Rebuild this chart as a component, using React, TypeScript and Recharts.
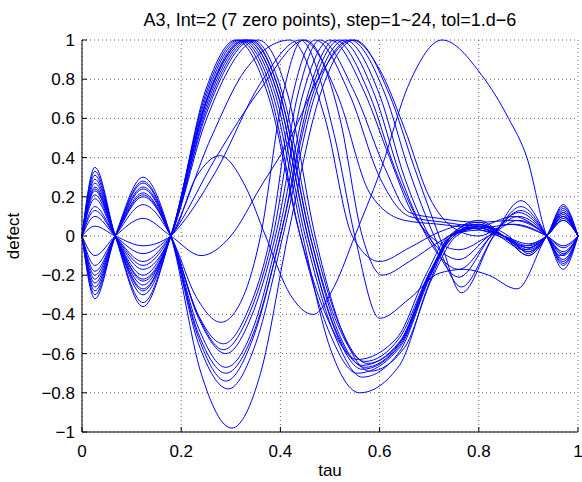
import { CartesianGrid, Line, LineChart, XAxis, YAxis } from "recharts";

type Knot = [number, number];

const title = "A3, Int=2 (7 zero points), step=1~24, tol=1.d\u22126";
const tauTicks = [0, 0.2, 0.4, 0.6, 0.8, 1];
const defectTicks = [-1, -0.8, -0.6, -0.4, -0.2, 0, 0.2, 0.4, 0.6, 0.8, 1];

// curves that go up right after tau=0.18 and peak early (~0.31-0.36)
const earlyPeak: Knot[][] = [
  [[0, 0], [0.026, 0.35], [0.067, 0], [0.123, -0.36], [0.179, 0], [0.25, 0.71], [0.32, 1], [0.385, 0.72], [0.445, 0], [0.5, -0.57], [0.56, -0.8], [0.64, -0.66], [0.7, -0.24], [0.745, 0], [0.8, 0.08], [0.85, 0], [0.9, -0.1], [0.937, 0], [0.97, 0.16], [1, 0]],
  [[0, 0], [0.026, 0.33], [0.067, 0], [0.123, -0.34], [0.179, 0], [0.25, 0.69], [0.325, 1], [0.39, 0.72], [0.45, 0], [0.51, -0.51], [0.565, -0.72], [0.64, -0.59], [0.7, -0.22], [0.745, 0], [0.8, 0.06], [0.85, 0], [0.9, -0.08], [0.937, 0], [0.97, 0.14], [1, 0]],
  [[0, 0], [0.026, 0.31], [0.067, 0], [0.123, -0.3], [0.179, 0], [0.25, 0.73], [0.315, 1], [0.38, 0.72], [0.44, 0], [0.5, -0.5], [0.555, -0.7], [0.64, -0.57], [0.7, -0.21], [0.74, 0], [0.8, 0.07], [0.85, 0], [0.9, -0.06], [0.937, 0], [0.97, 0.12], [1, 0]],
  [[0, 0], [0.026, 0.29], [0.067, 0], [0.123, -0.28], [0.179, 0], [0.25, 0.66], [0.335, 1], [0.4, 0.72], [0.46, 0], [0.515, -0.48], [0.57, -0.67], [0.64, -0.55], [0.7, -0.2], [0.75, 0], [0.8, 0.05], [0.85, 0], [0.9, -0.1], [0.937, 0], [0.97, 0.15], [1, 0]],
  [[0, 0], [0.026, 0.27], [0.067, 0], [0.123, -0.27], [0.179, 0], [0.25, 0.68], [0.33, 1], [0.395, 0.72], [0.455, 0], [0.51, -0.47], [0.565, -0.66], [0.64, -0.54], [0.7, -0.2], [0.745, 0], [0.8, 0.04], [0.85, 0], [0.9, -0.05], [0.937, 0], [0.97, 0.1], [1, 0]],
  [[0, 0], [0.026, 0.25], [0.067, 0], [0.123, -0.25], [0.179, 0], [0.25, 0.62], [0.345, 1], [0.405, 0.72], [0.465, 0], [0.52, -0.46], [0.575, -0.65], [0.645, -0.53], [0.7, -0.19], [0.75, 0], [0.8, 0.06], [0.85, 0], [0.9, -0.07], [0.937, 0], [0.97, 0.13], [1, 0]],
  [[0, 0], [0.026, 0.23], [0.067, 0], [0.123, -0.23], [0.179, 0], [0.25, 0.75], [0.31, 1], [0.375, 0.72], [0.44, 0], [0.5, -0.45], [0.555, -0.63], [0.635, -0.52], [0.695, -0.19], [0.74, 0], [0.8, 0.03], [0.85, 0], [0.9, -0.04], [0.937, 0], [0.97, 0.08], [1, 0]],
  [[0, 0], [0.026, 0.21], [0.067, 0], [0.123, -0.2], [0.179, 0], [0.25, 0.59], [0.355, 1], [0.415, 0.72], [0.47, 0], [0.525, -0.49], [0.58, -0.69], [0.65, -0.57], [0.705, -0.22], [0.755, 0], [0.81, 0.05], [0.86, 0], [0.9, -0.09], [0.937, 0], [0.97, 0.11], [1, 0]],
  [[0, 0], [0.026, 0.19], [0.067, 0], [0.123, -0.17], [0.179, 0], [0.25, 0.64], [0.34, 1], [0.4, 0.72], [0.46, 0], [0.515, -0.45], [0.57, -0.64], [0.64, -0.52], [0.7, -0.19], [0.745, 0], [0.8, 0.04], [0.85, 0], [0.9, -0.06], [0.937, 0], [0.97, 0.09], [1, 0]],
  [[0, 0], [0.026, 0.24], [0.067, 0], [0.123, -0.22], [0.179, 0], [0.25, 0.68], [0.33, 1], [0.395, 0.72], [0.455, 0], [0.51, -0.48], [0.565, -0.68], [0.64, -0.56], [0.7, -0.21], [0.745, 0], [0.8, 0.05], [0.85, 0], [0.9, -0.08], [0.937, 0], [0.97, 0.12], [1, 0]],
];

// rising after 0.18 too, but slower, peaking later
const latePeak: Knot[][] = [
  [[0, 0], [0.026, 0.15], [0.067, 0], [0.123, -0.15], [0.179, 0], [0.26, 0.5], [0.33, 0.85], [0.42, 1], [0.49, 0.6], [0.545, 0], [0.6, -0.13], [0.66, -0.06], [0.72, 0.02], [0.78, 0.06], [0.84, 0], [0.89, -0.07], [0.937, 0], [0.97, 0.1], [1, 0]],
  [[0, 0], [0.026, 0.13], [0.067, 0], [0.123, -0.13], [0.179, 0], [0.27, 0.4], [0.36, 0.75], [0.45, 1], [0.52, 0.6], [0.565, 0], [0.605, -0.2], [0.66, -0.13], [0.72, -0.03], [0.78, 0.04], [0.84, 0], [0.89, -0.05], [0.937, 0], [0.97, 0.08], [1, 0]],
  [[0, 0], [0.026, 0.1], [0.067, 0], [0.123, -0.09], [0.179, 0], [0.27, 0.33], [0.36, 0.78], [0.44, 1], [0.51, 0.5], [0.55, 0], [0.6, -0.42], [0.66, -0.32], [0.72, -0.19], [0.77, -0.17], [0.82, -0.2], [0.877, -0.27], [0.937, 0], [0.97, 0.1], [1, 0]],
  [[0, 0], [0.026, 0.05], [0.067, 0], [0.123, -0.05], [0.179, 0], [0.23, 0.3], [0.278, 0.41], [0.33, 0.25], [0.37, 0], [0.42, -0.3], [0.466, -0.4], [0.51, -0.25], [0.55, 0], [0.6, 0.32], [0.66, 0.78], [0.726, 1], [0.806, 0.82], [0.86, 0.6], [0.897, 0.4], [0.937, 0], [0.965, -0.1], [1, 0]],
];

// curves that dip after 0.18, then peak around 0.45-0.55
const earlyTrough: Knot[][] = [
  [[0, 0], [0.026, -0.32], [0.067, 0], [0.123, 0.3], [0.179, 0], [0.24, -0.7], [0.302, -0.98], [0.36, -0.7], [0.415, 0], [0.48, 0.72], [0.55, 1], [0.62, 0.72], [0.67, 0.35], [0.72, 0], [0.765, -0.29], [0.83, 0], [0.885, 0.18], [0.937, 0], [0.97, -0.17], [1, 0]],
  [[0, 0], [0.026, -0.3], [0.067, 0], [0.123, 0.28], [0.179, 0], [0.235, -0.55], [0.295, -0.78], [0.35, -0.55], [0.405, 0], [0.47, 0.72], [0.54, 1], [0.61, 0.73], [0.66, 0.33], [0.71, 0], [0.765, -0.26], [0.83, 0], [0.885, 0.15], [0.937, 0], [0.97, -0.15], [1, 0]],
  [[0, 0], [0.026, -0.28], [0.067, 0], [0.123, 0.27], [0.179, 0], [0.235, -0.52], [0.29, -0.74], [0.345, -0.52], [0.4, 0], [0.465, 0.72], [0.53, 1], [0.6, 0.72], [0.65, 0.3], [0.7, 0], [0.76, -0.21], [0.825, 0], [0.885, 0.13], [0.937, 0], [0.97, -0.14], [1, 0]],
  [[0, 0], [0.026, -0.26], [0.067, 0], [0.123, 0.25], [0.179, 0], [0.235, -0.5], [0.29, -0.7], [0.345, -0.5], [0.4, 0], [0.46, 0.72], [0.52, 1], [0.59, 0.72], [0.64, 0.32], [0.69, 0.02], [0.76, -0.17], [0.825, 0], [0.88, 0.12], [0.937, 0], [0.97, -0.13], [1, 0]],
  [[0, 0], [0.026, -0.24], [0.067, 0], [0.123, 0.24], [0.179, 0], [0.235, -0.47], [0.29, -0.67], [0.345, -0.47], [0.395, 0], [0.455, 0.72], [0.51, 1], [0.58, 0.72], [0.63, 0.35], [0.68, 0.07], [0.76, -0.12], [0.82, 0], [0.88, 0.1], [0.937, 0], [0.97, -0.12], [1, 0]],
  [[0, 0], [0.026, -0.22], [0.067, 0], [0.123, 0.22], [0.179, 0], [0.235, -0.42], [0.29, -0.6], [0.34, -0.42], [0.39, 0], [0.445, 0.72], [0.5, 1], [0.57, 0.73], [0.62, 0.4], [0.67, 0.1], [0.76, -0.07], [0.82, 0], [0.88, 0.08], [0.937, 0], [0.97, -0.1], [1, 0]],
  [[0, 0], [0.026, -0.2], [0.067, 0], [0.123, 0.21], [0.179, 0], [0.235, -0.41], [0.285, -0.58], [0.335, -0.41], [0.385, 0], [0.435, 0.72], [0.48, 1], [0.55, 0.73], [0.61, 0.35], [0.66, 0.12], [0.72, 0.09], [0.8, 0.07], [0.87, 0.08], [0.937, 0], [0.97, -0.09], [1, 0]],
  [[0, 0], [0.026, -0.18], [0.067, 0], [0.123, 0.2], [0.179, 0], [0.232, -0.39], [0.285, -0.55], [0.333, -0.39], [0.38, 0], [0.425, 0.72], [0.47, 1], [0.54, 0.72], [0.6, 0.3], [0.66, 0.1], [0.73, 0.07], [0.8, 0.05], [0.87, 0.1], [0.937, 0], [0.97, -0.08], [1, 0]],
  [[0, 0], [0.026, -0.15], [0.067, 0], [0.123, 0.16], [0.179, 0], [0.23, -0.31], [0.28, -0.44], [0.325, -0.31], [0.36, 0], [0.405, 0.72], [0.445, 1], [0.515, 0.72], [0.58, 0.22], [0.65, 0.08], [0.72, 0.06], [0.8, 0.04], [0.87, 0.06], [0.937, 0], [0.97, -0.06], [1, 0]],
  [[0, 0], [0.026, -0.1], [0.067, 0], [0.123, 0.09], [0.179, 0], [0.24, -0.1], [0.3, 0], [0.36, 0.25], [0.42, 0.5], [0.48, 0.82], [0.545, 1], [0.6, 0.85], [0.65, 0.55], [0.7, 0.2], [0.75, 0.04], [0.8, 0], [0.86, 0.06], [0.937, 0], [0.97, -0.05], [1, 0]],
];

const curves = [...earlyPeak, ...latePeak, ...earlyTrough].map((knots) =>
  knots.map(([tau, defect]) => ({ tau, defect }))
);

const font = "'Liberation Sans', Arial, sans-serif";
const tickStyle = { fill: "#000", fontSize: 17, fontFamily: font };

const fmt = (v: number) => (v < 0 ? "\u2212" + String(-v) : String(v));
const blank = () => "";

export default function App() {
  return (
    <div style={{ position: "absolute", left: 0, top: 0, width: 582, height: 482, background: "#fff", fontFamily: font }}>
      <div style={{ position: "absolute", left: 82, width: 496, top: 10, lineHeight: "20px", fontSize: 18, textAlign: "center", color: "#000" }}>
        {title}
      </div>
      <div
        style={{ position: "absolute", left: 14, top: 236, fontSize: 17, color: "#000", transform: "translate(-50%, -50%) rotate(-90deg)", whiteSpace: "nowrap" }}
      >
        defect
      </div>
      <LineChart width={582} height={482} margin={{ top: 40, right: 4, bottom: 0, left: 0 }}>
        <CartesianGrid stroke="#000" strokeOpacity={0.6} strokeDasharray="1 3" />
        <XAxis
          type="number"
          dataKey="tau"
          domain={[0, 1]}
          ticks={tauTicks}
          interval={0}
          height={50}
          tickSize={-5}
          tickMargin={18}
          tickFormatter={fmt}
          tick={tickStyle}
          stroke="#000"
          label={{ value: "tau", position: "insideBottom", offset: 6, fill: "#000", fontSize: 17, fontFamily: font }}
        />
        <XAxis xAxisId="top" orientation="top" type="number" domain={[0, 1]} ticks={tauTicks} interval={0} height={0} tickSize={-5} tickFormatter={blank} stroke="#000" />
        <YAxis
          type="number"
          domain={[-1, 1]}
          ticks={defectTicks}
          interval={0}
          width={82}
          tickSize={-5}
          tickMargin={12}
          tickFormatter={fmt}
          tick={tickStyle}
          stroke="#000"
        />
        <YAxis yAxisId="right" orientation="right" type="number" domain={[-1, 1]} ticks={defectTicks} interval={0} width={0} tickSize={-5} tickFormatter={blank} stroke="#000" />
        {curves.map((data, i) => (
          <Line
            key={i}
            data={data}
            dataKey="defect"
            type="monotone"
            stroke="#0000ff"
            strokeWidth={1}
            dot={false}
            isAnimationActive={false}
          />
        ))}
      </LineChart>
    </div>
  );
}
